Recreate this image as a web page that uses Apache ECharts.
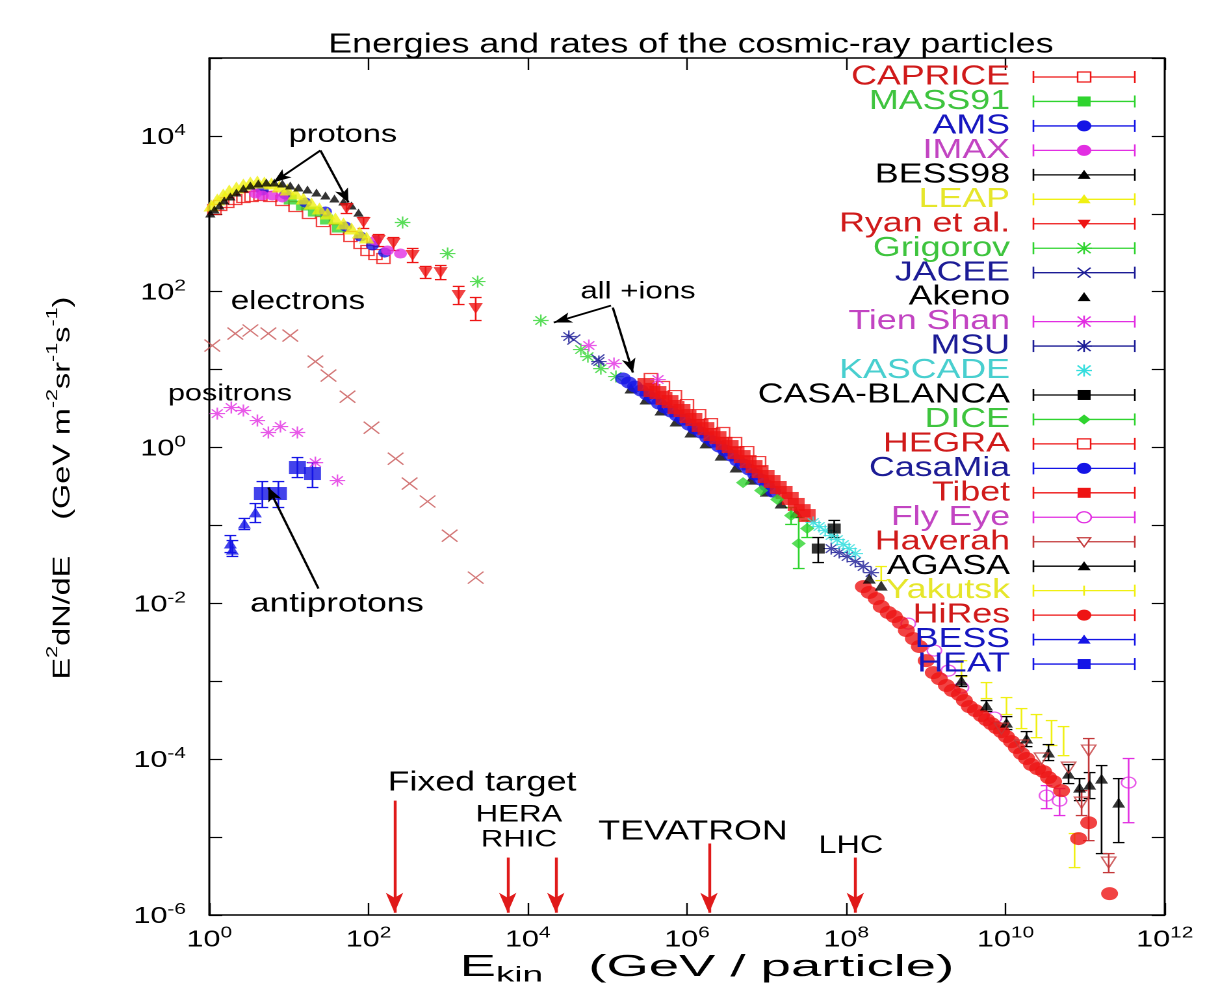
<!DOCTYPE html>
<html>
<head>
<meta charset="utf-8">
<script src="https://cdn.jsdelivr.net/npm/echarts@6/dist/echarts.min.js"></script>
<style>
  html, body { margin: 0; padding: 0; background: #fff; overflow: hidden; }
  #wrap { width: 1205px; height: 993px; overflow: hidden; }
  /* the plot is laid out on a narrower canvas and widened, which gives the wide lettering */
  #chart { width: 927px; height: 993px; transform: scaleX(1.29989); transform-origin: 0 0; }
</style>
</head>
<body>
<div id="wrap"><div id="chart"></div></div>
<script>
// ---------------------------------------------------------------
// Cosmic-ray spectra, E^2 dN/dE (GeV m^-2 sr^-1 s^-1) vs kinetic energy (GeV/particle)
// points: [E, flux] or [E, flux, lower, upper]
// ---------------------------------------------------------------
const caprice = [[1.16,1136],[1.37,1279],[1.68,1397],[2.12,1526],[2.68,1619],[3.38,1667],[4.38,1718],[5.85,1667],[8.28,1482],[12.1,1242],[17.9,1009],[26.8,796],[40.2,629],[59.4,511],[79.3,416],[97.1,338],[122,300],[154,267]];
const mass91 = [[10.4,1526],[14.8,1279],[20.9,1069],[29.6,845],[42.0,667]];
const ams = [[4.64,1991],[9.04,1769],[16.1,1397],[28.8,1069],[51.4,687],[79.3,511],[112,392],[159,318]];
const imax = [[3.79,1822],[4.64,1718],[6.20,1718],[8.28,1619],[122,454],[173,338],[252,309]];
const bess98 = [[1.03,1009],[1.16,1136],[1.34,1279],[1.54,1482],[1.84,1667],[2.19,1876],[2.68,2113],[3.28,2308],[4.13,2449],[5.21,2523],[6.57,2523],[8.28,2449],[10.4,2308],[13.2,2176],[17.1,2051],[22.2,1876],[28.8,1718],[37.3,1572],[48.5,1438],[61.1,1279],[74.8,1037]];
const leap = [[1.06,1279],[1.26,1526],[1.50,1769],[1.78,1991],[2.19,2176],[2.68,2377],[3.28,2523],[4.02,2598],[4.92,2523],[6.03,2449],[7.60,2241],[9.57,2051],[12.1,1822],[15.2,1572],[19.2,1356],[24.2,1170],[30.5,1009],[38.4,871],[48.5,751],[61.1,648],[77.1,575],[94.4,496]];
const ryan = [[52.9,1170,1009,1356],[86.5,773,648,897],[134,454,380,542],[206,416,338,496],[358,292,237,359],[521,176,148,211],[805,176,143,217],[1355,89.4,68.5,117],[2218,60.9,42.7,84.3]];
const grigorov = [[268,773],[985,309],[2350,135],[1.46e4,42.7],[4.64e4,18.1],[5.69e4,14.7],[8.28e4,10.3],[1.28e5,8.15]];
const jacee = [[3.79e4,24.3],[7.6e4,13.5]];
const akeno = [[1.98e5,5.72],[3.05e5,4.13],[4.71e5,2.99],[7.28e5,2.16],[1.12e6,1.56],[1.73e6,1.13],[2.68e6,0.789],[4.13e6,0.554],[6.38e6,0.388],[9.86e6,0.272],[1.52e7,0.191],[2.35e7,0.146]];
const tienShan = [[5.85e4,20.4],[1.21e5,12.0],[4.32e5,7.46]];
const msu = [[3.28e4,26.6],[7.82e4,12.7],[6.48e7,0.0505],[8.17e7,0.0449],[1.03e8,0.0399],[1.30e8,0.0344],[1.64e8,0.0297],[2.06e8,0.0248]];
const kascade = [[3.85e7,0.109],[4.57e7,0.0968],[5.45e7,0.0861],[6.48e7,0.0742],[7.71e7,0.0659],[9.17e7,0.0569],[1.09e8,0.0505],[1.30e8,0.0436]];
const casaBlanca = [[4.45e7,0.0505,0.0334,0.070],[7.06e7,0.0913,0.070,0.116]];
const dice = [[5.06e6,0.355],[8.53e6,0.281],[1.36e7,0.215],[2.03e7,0.134,0.103,0.170],[2.53e7,0.0586,0.028,0.126],[3.23e7,0.0913,0.070,0.116]];
const hegra = [[3.52e5,7.69],[4.99e5,6.07],[7.06e5,4.65],[1.0e6,3.56],[1.42e6,2.65],[2.0e6,2.03],[2.84e6,1.56],[4.02e6,1.16],[5.69e6,0.888],[8.05e6,0.661]];
const casaMia = [[1.57e5,7.69],[1.86e5,6.83],[2.22e5,6.07],[2.64e5,5.39],[3.14e5,4.79],[3.74e5,4.26],[4.44e5,3.67],[5.29e5,3.26],[6.29e5,2.90],[7.48e5,2.58],[8.91e5,2.29],[1.06e6,1.97],[1.26e6,1.75],[1.50e6,1.56],[1.79e6,1.34],[2.12e6,1.19],[2.53e6,1.03],[3.01e6,0.915],[3.58e6,0.789],[4.26e6,0.681],[5.06e6,0.605],[6.03e6,0.522],[7.17e6,0.450],[8.53e6,0.388],[1.01e7,0.325],[1.21e7,0.272]];
const tibet = [[3.05e5,6.44],[3.63e5,5.39],[4.32e5,5.08],[5.14e5,4.26],[6.11e5,3.89],[7.28e5,3.26],[8.65e5,2.99],[1.03e6,2.50],[1.22e6,2.29],[1.46e6,1.92],[1.73e6,1.75],[2.06e6,1.47],[2.45e6,1.34],[2.92e6,1.13],[3.48e6,1.03],[4.13e6,0.863],[4.92e6,0.766],[5.85e6,0.661],[6.96e6,0.570],[8.28e6,0.492],[9.86e6,0.425],[1.17e7,0.366],[1.40e7,0.307],[1.66e7,0.265],[1.98e7,0.222],[2.35e7,0.186],[2.80e7,0.155],[3.23e7,0.134]];
const flyEye = [[6.02e8,5.5e-3],[1.28e9,2.48e-3],[1.92e9,1.37e-3],[2.8e9,8.3e-4],[7.28e9,3.42e-4],[3.28e10,3.41e-5,2.32e-5,4.58e-5],[4.78e10,2.94e-5,1.89e-5,4.2e-5],[3.52e11,5.01e-5,1.53e-5,1.02e-4]];
const haverah = [[8.91e9,2.47e-4],[1.59e10,1.5e-4],[2.84e10,1.02e-4],[6.2e10,7.8e-5],[9.04e10,2.77e-5,1.89e-5,3.95e-5],[1.11e11,1.29e-4,9.0e-6,1.84e-4],[1.98e11,4.71e-6,3.5e-6,6.14e-6]];
const agasa = [[1.95e8,0.0208],[2.75e8,0.0169],[2.8e9,1.02e-3,8.55e-4,1.18e-3],[5.77e9,4.88e-4,4.08e-4,5.65e-4],[1.03e10,2.95e-4,2.4e-4,3.52e-4],[1.84e10,1.84e-4,1.45e-4,2.26e-4],[3.47e10,1.22e-4,9.6e-5,1.54e-4],[6.2e10,6.53e-5,4.86e-5,8.53e-5],[8.52e10,4.32e-5,2.94e-5,5.63e-5],[1.14e11,4.72e-5,3.12e-5,6.73e-5],[1.61e11,5.63e-5,6.14e-6,8.28e-5],[2.64e11,2.77e-5,8.5e-6,5.63e-5]];
const yakutsk = [[2.75e8,0.0248,0.0196,0.0297],[5.69e8,0.0109],[2.8e9,1.46e-3,1.15e-3,1.84e-3],[5.77e9,7.6e-4,6.0e-4,9.62e-4],[1.03e10,4.88e-4,3.74e-4,6.18e-4],[1.59e10,3.32e-4,2.47e-4,4.46e-4],[2.45e10,2.7e-4,1.89e-4,3.74e-4],[3.79e10,2.13e-4,1.5e-4,3.13e-4],[5.37e10,1.73e-4,1.11e-4,2.62e-4],[7.38e10,6.71e-6,4.06e-6,1.11e-5]];
const hiRes = [[1.64e8,0.0164],[1.95e8,0.0138],[2.38e8,0.0115],[2.75e8,0.0091],[3.37e8,0.00762],[4.02e8,0.00677],[4.78e8,0.00567],[5.69e8,0.00448],[6.97e8,0.00353],[8.29e8,0.00279],[1.01e9,0.00184],[1.24e9,0.00129],[1.48e9,0.00108],[1.81e9,8.81e-4],[2.15e9,7.6e-4],[2.64e9,6.75e-4],[3.05e9,5.65e-4],[3.52e9,4.73e-4],[4.2e9,4.2e-4],[4.99e9,3.63e-4],[5.77e9,3.22e-4],[6.67e9,2.86e-4],[7.71e9,2.54e-4],[8.91e9,2.26e-4],[1.03e10,1.95e-4],[1.19e10,1.68e-4],[1.37e10,1.41e-4],[1.59e10,1.18e-4],[1.84e10,1.02e-4],[2.12e10,8.53e-5],[2.53e10,7.57e-5],[3.01e10,6.93e-5],[3.47e10,5.81e-5],[4.02e10,5.16e-5],[5.06e10,3.95e-5],[8.28e10,9.57e-6],[1.11e11,1.53e-5],[2.03e11,1.88e-6]];
// antiprotons
const bess = [[1.84,0.0586,0.0449,0.0742],[1.95,0.049,0.040,0.064],[2.76,0.106,0.0885,0.123],[3.79,0.147,0.109,0.191]];
const heat = [[4.64,0.257,0.170,0.366],[7.38,0.257,0.170,0.366],[12.8,0.554,0.412,0.744],[19.8,0.464,0.307,0.641]];
// leptons
const electrons = [[1.09,20.4],[2.12,29],[3.28,31.8],[5.52,29],[10.4,27.4],[21.5,12.7],[31.4,8.4],[54.5,4.5],[109,1.8],[219,0.72],[328,0.345],[552,0.203],[1045,0.074],[2218,0.0214]];
const positrons = [[1.26,2.73],[1.89,3.26],[2.68,2.99],[4.02,2.22],[5.52,1.56],[7.82,1.86],[12.8,1.56],[21.5,0.64],[40.7,0.377]];

// accelerator reach, expressed as the equivalent fixed-target energy (GeV)
const acceleratorNames = ['Fixed target', 'HERA', 'RHIC', 'TEVATRON', 'LHC'];
const acceleratorEnergies = [212, 5600, 22500, 1.89e6, 1.3e8];

// axis tick exponents that carry labels
const xLabelExponents = [0, 2, 4, 6, 8, 10, 12];
const yLabelExponents = [-6, -4, -2, 0, 2, 4];

// ---------------------------------------------------------------
const FONT = '"Liberation Sans", Arial, Helvetica, sans-serif';
const SX = 1205 / 927;
const RED = '#ee1414', RED_T = '#d01a1a', GREEN = '#2fd42f', GREEN_T = '#3ec43e';
const BLUE = '#1414e6', BLUE_T = '#1616c0', NAVY = '#1c1c96', MAG = '#e22ee2', MAG_T = '#c244c2';
const YEL = '#f0f012', YEL_T = '#e6e62a', CYAN = '#35dede', CYAN_T = '#48cfcf', BLK = '#000000';
const BROWN = '#c4383a', EL = '#c85454';

const experiments = [
  {name: 'CAPRICE', data: caprice, color: RED, text: RED_T, kind: 'openSquare', bars: true},
  {name: 'MASS91', data: mass91, color: GREEN, text: GREEN_T, kind: 'square', bars: true},
  {name: 'AMS', data: ams, color: BLUE, text: BLUE_T, kind: 'circle', bars: true},
  {name: 'IMAX', data: imax, color: MAG, text: MAG_T, kind: 'circle', bars: true},
  {name: 'BESS98', data: bess98, color: BLK, text: BLK, kind: 'triangle', bars: true, size: 8},
  {name: 'LEAP', data: leap, color: YEL, text: YEL_T, kind: 'triangle', bars: true, size: 12},
  {name: 'Ryan et al.', data: ryan, color: RED, text: RED_T, kind: 'downTriangle', bars: true},
  {name: 'Grigorov', data: grigorov, color: GREEN, text: GREEN_T, kind: 'asterisk', bars: true},
  {name: 'JACEE', data: jacee, color: NAVY, text: NAVY, kind: 'cross', bars: true},
  {name: 'Akeno', data: akeno, color: BLK, text: BLK, kind: 'triangle', bars: false},
  {name: 'Tien Shan', data: tienShan, color: MAG, text: MAG_T, kind: 'asterisk', bars: true},
  {name: 'MSU', data: msu, color: NAVY, text: NAVY, kind: 'asterisk', bars: true},
  {name: 'KASCADE', data: kascade, color: CYAN, text: CYAN_T, kind: 'asterisk', bars: false},
  {name: 'CASA-BLANCA', data: casaBlanca, color: BLK, text: BLK, kind: 'square', bars: true},
  {name: 'DICE', data: dice, color: GREEN, text: GREEN_T, kind: 'diamond', bars: true},
  {name: 'HEGRA', data: hegra, color: RED, text: RED_T, kind: 'openSquare', bars: true},
  {name: 'CasaMia', data: casaMia, color: BLUE, text: NAVY, kind: 'circle', bars: true, size: 12},
  {name: 'Tibet', data: tibet, color: RED, text: RED_T, kind: 'square', bars: true, size: 13},
  {name: 'Fly Eye', data: flyEye, color: MAG, text: MAG_T, kind: 'openCircle', bars: true},
  {name: 'Haverah', data: haverah, color: BROWN, text: RED_T, kind: 'openDownTriangle', bars: true},
  {name: 'AGASA', data: agasa, color: BLK, text: BLK, kind: 'triangle', bars: true},
  {name: 'Yakutsk', data: yakutsk, color: YEL, text: YEL_T, kind: 'tick', bars: true},
  {name: 'HiRes', data: hiRes, color: RED, text: RED_T, kind: 'circle', bars: true, size: 13},
  {name: 'BESS', data: bess, color: BLUE, text: BLUE_T, kind: 'triangle', bars: true},
  {name: 'HEAT', data: heat, color: BLUE, text: BLUE_T, kind: 'square', bars: true, size: 13}
];

const drawOrder = ['CAPRICE','MASS91','AMS','IMAX','LEAP','BESS98','Ryan et al.','Grigorov',
  'Akeno','CasaMia','Tibet','HEGRA','JACEE','Tien Shan','MSU','KASCADE','DICE','CASA-BLANCA',
  'Yakutsk','Fly Eye','HiRes','AGASA','Haverah','BESS','HEAT'];

const PATHS = {
  asterisk: 'path://M5 0L5 10M0 5L10 5M1.5 1.5L8.5 8.5M8.5 1.5L1.5 8.5',
  cross: 'path://M0 0L10 10M10 0L0 10',
  tick: 'path://M5 0L5 10'
};
const CLEAR = 'rgba(255,255,255,0)';

function markerStyle(kind, color) {
  switch (kind) {
    case 'square': return {symbol: 'rect', symbolSize: 10, itemStyle: {color}};
    case 'openSquare': return {symbol: 'rect', symbolSize: 10, itemStyle: {color: CLEAR, borderColor: color, borderWidth: 1.2}};
    case 'circle': return {symbol: 'circle', symbolSize: 10, itemStyle: {color}};
    case 'openCircle': return {symbol: 'circle', symbolSize: 11, itemStyle: {color: CLEAR, borderColor: color, borderWidth: 1.2}};
    case 'triangle': return {symbol: 'triangle', symbolSize: 10, itemStyle: {color}};
    case 'downTriangle': return {symbol: 'triangle', symbolRotate: 180, symbolSize: 11, itemStyle: {color}};
    case 'openDownTriangle': return {symbol: 'triangle', symbolRotate: 180, symbolSize: 11, itemStyle: {color: CLEAR, borderColor: color, borderWidth: 1.2}};
    case 'diamond': return {symbol: 'diamond', symbolSize: 11, itemStyle: {color}};
    case 'asterisk': return {symbol: PATHS.asterisk, symbolSize: 12, itemStyle: {color: CLEAR, borderColor: color, borderWidth: 1.2}};
    case 'cross': return {symbol: PATHS.cross, symbolSize: 10, itemStyle: {color: CLEAR, borderColor: color, borderWidth: 1.2}};
    case 'tick': return {symbol: PATHS.tick, symbolSize: 10, itemStyle: {color: CLEAR, borderColor: color, borderWidth: 1.2}};
  }
}

function scatterSeries(name, pts, kind, color, size) {
  const st = markerStyle(kind, color);
  if (size) st.symbolSize = size;
  return Object.assign({
    type: 'scatter', name, silent: true, z: 3,
    data: pts.map(p => [p[0], p[1]]),
    emphasis: {disabled: true}
  }, st);
}

function errorBarSeries(pts, color) {
  return {
    type: 'custom', silent: true, z: 2,
    data: pts.filter(p => p.length >= 4).map(p => [p[0], p[2], p[3]]),
    encode: {x: 0, y: [1, 2]},
    renderItem(params, api) {
      const lo = api.coord([api.value(0), api.value(1)]);
      const hi = api.coord([api.value(0), api.value(2)]);
      const w = 4.5, st = {stroke: color, lineWidth: 1.3};
      return {type: 'group', children: [
        {type: 'line', shape: {x1: lo[0], y1: lo[1], x2: hi[0], y2: hi[1]}, style: st},
        {type: 'line', shape: {x1: lo[0] - w, y1: lo[1], x2: lo[0] + w, y2: lo[1]}, style: st},
        {type: 'line', shape: {x1: hi[0] - w, y1: hi[1], x2: hi[0] + w, y2: hi[1]}, style: st}
      ]};
    }
  };
}

const series = [];
series.push(scatterSeries('electrons', electrons, 'cross', EL, 12));
series.push(scatterSeries('positrons', positrons, 'asterisk', MAG, 12));
drawOrder.forEach(n => {
  const e = experiments.find(x => x.name === n);
  if (e.bars && e.data.some(p => p.length >= 4)) series.push(errorBarSeries(e.data, e.color));
  series.push(scatterSeries(e.name, e.data, e.kind, e.color, e.size));
});

// arrows: accelerator markers and annotation pointers
const arrowTops = [2.94e-5, 5.46e-6, 5.46e-6, 8.26e-6, 5.46e-6];
series.push({
  type: 'scatter', data: [], silent: true, z: 6,
  markLine: {
    silent: true, animation: false, symbol: ['none', 'arrow'], symbolSize: [10, 20],
    label: {show: false}, emphasis: {disabled: true},
    lineStyle: {color: '#e01a1a', width: 2.2, type: 'solid'},
    data: acceleratorEnergies.map((E, i) => [{coord: [E, arrowTops[i]]}, {coord: [E, 1.07e-6]}])
  }
});
series.push({
  type: 'scatter', data: [], silent: true, z: 6,
  markLine: {
    silent: true, animation: false, symbol: ['none', 'arrow'], symbolSize: [8, 14],
    label: {show: false}, emphasis: {disabled: true},
    lineStyle: {color: '#000', width: 1.8, type: 'solid'},
    data: [
      [{coord: [24.9, 6500]}, {coord: [6.38, 2523]}],
      [{coord: [24.9, 6500]}, {coord: [56.0, 1397]}],
      [{coord: [1.11e5, 66.5]}, {coord: [2.12e4, 40.2]}],
      [{coord: [1.17e5, 62.7]}, {coord: [2.09e5, 9.18]}],
      [{coord: [23.5, 0.0155]}, {coord: [5.52, 0.307]}]
    ]
  }
});

// ---------------------------------------------------------------
// text and legend drawn as graphic elements
function txt(text, x, y, size, color, align, extra) {
  return Object.assign({
    type: 'text', x, y, z: 100, silent: true,
    style: {text, fill: color || '#000', fontSize: size, fontFamily: FONT,
            align: align || 'center', verticalAlign: 'middle',
            textAlign: align || 'center', textVerticalAlign: 'middle'}
  }, extra || {});
}

function legendMarker(kind, cx, cy, color) {
  const r = 5, L = (x1, y1, x2, y2) => ({type: 'line', z: 101, silent: true,
    shape: {x1, y1, x2, y2}, style: {stroke: color, lineWidth: 1.3}});
  switch (kind) {
    case 'square': return [{type: 'rect', z: 101, silent: true, shape: {x: cx - r, y: cy - r, width: 2 * r, height: 2 * r}, style: {fill: color}}];
    case 'openSquare': return [{type: 'rect', z: 101, silent: true, shape: {x: cx - r, y: cy - r, width: 2 * r, height: 2 * r}, style: {fill: '#fff', stroke: color, lineWidth: 1.2}}];
    case 'circle': return [{type: 'circle', z: 101, silent: true, shape: {cx, cy, r: r + 0.5}, style: {fill: color}}];
    case 'openCircle': return [{type: 'circle', z: 101, silent: true, shape: {cx, cy, r: r + 0.5}, style: {fill: '#fff', stroke: color, lineWidth: 1.2}}];
    case 'triangle': return [{type: 'polygon', z: 101, silent: true, shape: {points: [[cx, cy - r], [cx + r, cy + r * 0.8], [cx - r, cy + r * 0.8]]}, style: {fill: color}}];
    case 'downTriangle': return [{type: 'polygon', z: 101, silent: true, shape: {points: [[cx - r, cy - r * 0.8], [cx + r, cy - r * 0.8], [cx, cy + r]]}, style: {fill: color}}];
    case 'openDownTriangle': return [{type: 'polygon', z: 101, silent: true, shape: {points: [[cx - r, cy - r * 0.8], [cx + r, cy - r * 0.8], [cx, cy + r]]}, style: {fill: '#fff', stroke: color, lineWidth: 1.2}}];
    case 'diamond': return [{type: 'polygon', z: 101, silent: true, shape: {points: [[cx, cy - r], [cx + r, cy], [cx, cy + r], [cx - r, cy]]}, style: {fill: color}}];
    case 'asterisk': return [L(cx, cy - r - 1, cx, cy + r + 1), L(cx - r - 1, cy, cx + r + 1, cy), L(cx - r, cy - r, cx + r, cy + r), L(cx + r, cy - r, cx - r, cy + r)];
    case 'cross': return [L(cx - r, cy - r, cx + r, cy + r), L(cx + r, cy - r, cx - r, cy + r)];
    case 'tick': return [L(cx, cy - r, cx, cy + r)];
  }
  return [];
}

const graphics = [];
graphics.push(txt('Energies and rates of the cosmic-ray particles', 531.5, 45, 27.5, '#000'));
const LEG_TOP = 77, LEG_STEP = 24.46, LEG_TEXT_X = 777, BAR_X1 = 795, BAR_X2 = 873, MARK_X = 834;
experiments.forEach((e, i) => {
  const y = LEG_TOP + i * LEG_STEP;
  graphics.push(txt(e.name, LEG_TEXT_X, y, 27.5, e.text, 'right'));
  if (e.bars) {
    const st = {stroke: e.color, lineWidth: 1.3};
    graphics.push({type: 'line', z: 100, silent: true, shape: {x1: BAR_X1, y1: y, x2: BAR_X2, y2: y}, style: st});
    graphics.push({type: 'line', z: 100, silent: true, shape: {x1: BAR_X1, y1: y - 6, x2: BAR_X1, y2: y + 6}, style: st});
    graphics.push({type: 'line', z: 100, silent: true, shape: {x1: BAR_X2, y1: y - 6, x2: BAR_X2, y2: y + 6}, style: st});
  }
  legendMarker(e.kind, MARK_X, y, e.color).forEach(g => graphics.push(g));
});

// annotations
graphics.push(txt('protons', 263.8, 135, 25));
graphics.push(txt('electrons', 229.2, 302, 25.5));
graphics.push(txt('positrons', 176.9, 394, 23.5));
graphics.push(txt('antiprotons', 259.2, 604, 27));
graphics.push(txt('all +ions', 490.8, 292, 24));
const accLabelPos = [[370.8, 783], [399.2, 815], [399.2, 840], [533.1, 832], [654.6, 846]];
const accLabelSize = [27.5, 24, 24, 27.5, 25];
acceleratorNames.forEach((n, i) => graphics.push(txt(n, accLabelPos[i][0], accLabelPos[i][1], accLabelSize[i])));

// axis titles
graphics.push({
  type: 'text', x: 543.8, y: 969, z: 100, silent: true, scaleX: 1.35,
  style: {
    text: '{a|E}{sub|kin}{a|   (GeV / particle)}',
    align: 'center', verticalAlign: 'middle', textAlign: 'center', textVerticalAlign: 'middle',
    fill: '#000', fontFamily: FONT, fontSize: 31,
    rich: {
      a: {fontSize: 31, fontFamily: FONT, fill: '#000', lineHeight: 34, verticalAlign: 'top'},
      sub: {fontSize: 21, fontFamily: FONT, fill: '#000', lineHeight: 8, verticalAlign: 'bottom'}
    }
  }
});
graphics.push({
  type: 'text', x: 46.2, y: 488, z: 100, silent: true,
  rotation: Math.PI / 2, scaleX: 1.35, scaleY: 1 / SX,
  style: {
    text: '{a|E}{s|2}{a|dN/dE    (GeV m}{s|-2}{a|sr}{s|-1}{a|s}{s|-1}{a|)}',
    align: 'center', verticalAlign: 'middle', textAlign: 'center', textVerticalAlign: 'middle',
    fill: '#000', fontFamily: FONT, fontSize: 24,
    rich: {
      a: {fontSize: 24, fontFamily: FONT, fill: '#000', lineHeight: 30, verticalAlign: 'bottom'},
      s: {fontSize: 16, fontFamily: FONT, fill: '#000', lineHeight: 16, verticalAlign: 'top'}
    }
  }
});

// ---------------------------------------------------------------
const tickRich = {
  b: {fontSize: 23.5, fontFamily: FONT, color: '#000', lineHeight: 27, verticalAlign: 'bottom'},
  s: {fontSize: 16, fontFamily: FONT, color: '#000', lineHeight: 15, verticalAlign: 'top'}
};
const frame = {show: true, onZero: false, lineStyle: {color: '#000', width: 1.5}};
const noLine = {show: false, onZero: false};

const xBase = {
  type: 'log', logBase: 100, min: 1, max: 1e12, splitNumber: 6,
  axisLine: frame, splitLine: {show: false}, minorTick: {show: false},
  axisTick: {show: true, inside: true, length: 12, lineStyle: {color: '#000', width: 1.2}}
};
// decade ticks on the vertical axes: exponent scale laid over the log scale of the data
const decadeBase = {
  type: 'value', min: -6, max: 5, interval: 1,
  splitLine: {show: false}, minorTick: {show: false},
  axisTick: {show: true, inside: true, length: 10, lineStyle: {color: '#000', width: 1.2}}
};

const option = {
  animation: false,
  backgroundColor: '#ffffff',
  grid: {left: 161, right: 31, top: 58, bottom: 78, containLabel: false},
  xAxis: [
    Object.assign({}, xBase, {position: 'bottom',
      axisLabel: {show: true, margin: 10, showMinLabel: true, showMaxLabel: true,
                  formatter: v => {
                    const k = Math.round(Math.log10(v));
                    return xLabelExponents.indexOf(k) >= 0 ? '{b|10}{s|' + k + '}' : '';
                  }, rich: tickRich}}),
    Object.assign({}, xBase, {position: 'top', axisLabel: {show: false}})
  ],
  yAxis: [
    {type: 'log', logBase: 10, min: 1e-6, max: 1e5, position: 'left',
     axisLine: frame, axisTick: {show: false}, axisLabel: {show: false},
     splitLine: {show: false}, minorTick: {show: false}},
    Object.assign({}, decadeBase, {position: 'left', axisLine: noLine,
      axisLabel: {show: true, margin: 18, showMinLabel: true, showMaxLabel: true,
                  formatter: v => yLabelExponents.indexOf(v) >= 0 ? '{b|10}{s|' + v + '}' : '',
                  rich: tickRich}}),
    Object.assign({}, decadeBase, {position: 'right', axisLine: frame, axisLabel: {show: false}})
  ],
  series,
  graphic: {elements: graphics}
};

const chart = echarts.init(document.getElementById('chart'), null, {renderer: 'canvas', devicePixelRatio: 2});
chart.setOption(option);
</script>
</body>
</html>
